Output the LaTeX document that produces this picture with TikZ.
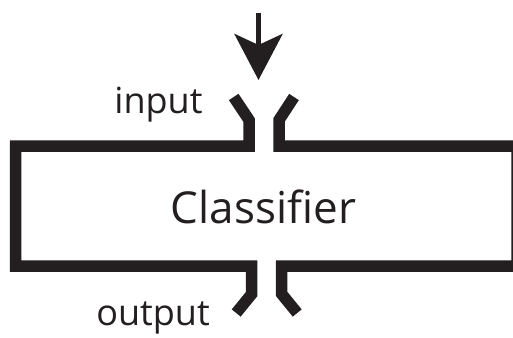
\documentclass[tikz,border=0pt]{standalone}
\usepackage{fontspec}
\setmainfont{Open Sans}
\usetikzlibrary{arrows.meta}
\definecolor{ink}{RGB}{35,31,32}
\tikzset{
  wall/.style={draw=ink, line width=11.5pt, line join=miter, line cap=butt},
  label/.style={text=ink, inner sep=0pt, anchor=base},
  feed/.style={draw=ink, line width=5pt, -{Stealth[length=46pt,width=48pt,inset=11pt]}}
}
\begin{document}
\begin{tikzpicture}[x=1pt,y=-1pt]
  \useasboundingbox (0,0) rectangle (513,337);
  \clip (0,0) rectangle (513,337);
  % left half of the box with its two flared lips
  \path[wall] (233.7,97) -- (249,120) -- (249,146) -- (15.5,146)
              -- (15.5,266) -- (251.7,266) -- (251.7,294) -- (236.2,313);
  % right half of the box with its two flared lips
  \path[wall] (294,97) -- (279,120) -- (279,146) -- (517,146)
              -- (517,266) -- (281.7,266) -- (281.7,294) -- (297.2,313);
  % incoming arrow
  \coordinate (src) at (258.5,13);
  \coordinate (dst) at (258.5,80);
  \draw[feed] (src) -- (dst);
  % labels
  \node[label, font=\fontsize{36}{36}\selectfont] (in) at (158.5,113) {input};
  \node[label, font=\fontsize{36}{36}\selectfont] (out) at (153,325) {output};
  \node[label, font=\fontsize{44}{44}\selectfont] (cls) at (263.4,223) {Classifier};
\end{tikzpicture}
\end{document}
